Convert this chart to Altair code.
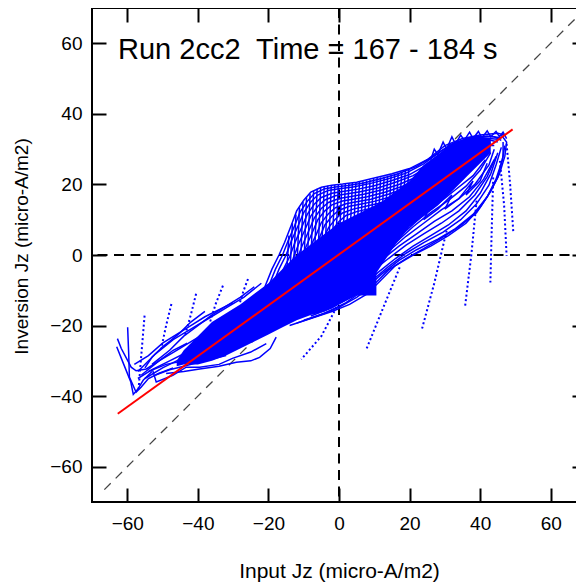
import altair as alt
import pandas as pd

FONT = "Liberation Sans"
BLUE = "#0000ff"

X_TICKS = [-60, -40, -20, 0, 20, 40, 60]
Y_TICKS = [-60, -40, -20, 0, 20, 40, 60]
DOMAIN = [-70, 70]

TITLE_TEXT = "Run 2cc2\u00a0 Time = 167 - 184 s"
X_TITLE = "Input Jz (micro-A/m2)"
Y_TITLE = "Inversion Jz (micro-A/m2)"

# identity line (dashed grey)
diag_x = [-66.5, 70]
diag_y = [-66.5, 70]

# linear fit (red)
fit_x = [-62.7, 49.2]
fit_y = [-45.0, 35.6]

# dense core of the blue trace cloud
core_x = [-46, -44, -40, -36, -32, -28, -24, -20, -16, -12, -8, -4, 0, 4, 8, 12, 16, 20, 24, 28, 32, 36, 40, 43]
core_hi = [-30, -27, -23, -19, -16.5, -14, -11, -8, -4, 0, 3, 6, 9, 11, 13, 15, 18, 21, 25.5, 28.5, 31.5, 33, 33.5, 33]
core_lo = [-31.5, -31, -31, -30, -28.5, -26.5, -24.5, -22.5, -20.5, -18.5, -17, -16, -14, -12, -9, -3, 3, 8, 11, 14, 18, 22, 26, 29]

# dense block below the core near the origin
block_x = [0, 10.6]
block_lo = [-11.5, -11.5]
block_hi = [-3, -3]

upper_loops = [
    [(-21, -9), (-19, -4), (-17, 0), (-15.4, 3.6), (-13.5, 8.5), (-12, 12.5), (-10, 15.5), (-8, 17.8), (-5, 19.2), (-2, 19.8), (1, 20.1), (5, 20.6), (10, 21.8), (15, 23), (20, 24.5), (25, 27), (30, 31), (35, 33), (40, 34), (45, 34.5), (47, 34)],
    [(-20, -9), (-18, -4), (-16, 0), (-14.5, 3.8), (-12.5, 8.5), (-11, 12.2), (-9, 15.2), (-7, 17.4), (-4, 18.8), (-1, 19.3), (2.5, 19.7), (7, 20.4), (12, 21.7), (17, 23.1), (22, 25.1), (27, 28.2), (32, 31.5), (37, 33.2), (42, 33.7), (46, 33.2)],
    [(-19, -9), (-17, -4), (-15, 0), (-13.5, 4), (-11.5, 8.5), (-10, 12), (-8, 15), (-6, 17), (-3, 18.3), (0, 18.8), (4, 19.3), (9, 20.3), (14, 21.6), (19, 23.2), (24, 25.8), (29, 29.5), (34, 32.2), (39, 33.5), (44, 33.5), (46, 32.5)],
    [(-18, -9.5), (-16, -4.5), (-14, -0.5), (-12.5, 3.5), (-10.5, 8), (-9, 11.5), (-7, 14.4), (-5, 16.3), (-2, 17.5), (1, 18), (5, 18.6), (10, 19.6), (15, 21.1), (20, 22.8), (25, 25.6), (30, 29.5), (35, 32.1), (40, 33.2), (45, 32.8)],
    [(-17, -10), (-15, -5), (-13, -1), (-11.5, 3), (-9.5, 7.5), (-8, 11), (-6, 13.8), (-4, 15.6), (-1, 16.8), (2, 17.3), (6, 17.9), (11, 19), (16, 20.6), (21, 22.5), (26, 25.5), (31, 29.5), (36, 32), (41, 33), (45, 32)],
    [(-16, -10.5), (-14, -5.5), (-12, -1.5), (-10.5, 2.5), (-8.5, 7), (-7, 10.5), (-5, 13.2), (-3, 14.9), (0, 16), (3, 16.5), (7, 17.2), (12, 18.4), (17, 20), (22, 22.1), (27, 25.2), (32, 29.1), (37, 31.7), (42, 32.5)],
    [(-15, -11), (-13, -6), (-11, -2), (-9.5, 2), (-7.5, 6.5), (-6, 10), (-4, 12.5), (-2, 14.2), (1, 15.3), (4, 15.8), (8, 16.5), (13, 17.8), (18, 19.5), (23, 21.8), (28, 25), (33, 28.8), (38, 31.5), (43, 32)],
    [(-14, -11.5), (-12, -6.5), (-10, -2.5), (-8.5, 1.5), (-6.5, 5.7), (-5, 9.2), (-3, 11.7), (-1, 13.4), (2, 14.5), (5, 15.1), (9, 15.8), (14, 17.2), (19, 19), (24, 21.4), (29, 24.7), (34, 28.5), (39, 31.2), (43, 31.5)],
    [(-13, -12), (-11, -7), (-9, -3), (-7.5, 1), (-5.5, 5), (-4, 8.5), (-2, 11), (0, 12.7), (3, 13.8), (6, 14.4), (10, 15.2), (15, 16.6), (20, 18.5), (25, 21), (30, 24.5), (35, 28.3), (40, 31), (44, 31)],
    [(-12, -12.5), (-10, -7.5), (-8, -3.5), (-6.5, 0.5), (-4.5, 4.5), (-3, 7.7), (-1, 10.2), (1, 11.9), (4, 13), (7, 13.7), (11, 14.6), (16, 16), (21, 18), (26, 20.7), (31, 24.2), (36, 27.9), (40, 30.5)],
    [(-11, -13), (-9, -8), (-7, -4), (-5.5, 0), (-3.5, 4), (-2, 7), (0, 9.5), (2, 11.2), (5, 12.3), (8, 13), (12, 14), (17, 15.5), (22, 17.5), (27, 20.5), (32, 24), (37, 27.5), (41, 30)],
]

plateau_hatch = [
    [(-15, -8), (-14.2, 5.5)], [(-14, -7), (-13.2, 9)], [(-13, -6), (-12.2, 11.5)],
    [(-12, -5.5), (-11.2, 13.5)], [(-11, -5), (-10.2, 15)], [(-10, -4), (-9.2, 16.3)],
    [(-9, -3), (-8.2, 17.3)], [(-8, -2.5), (-7.2, 18.2)], [(-7, -2), (-6.2, 18.8)],
    [(-6, -1.5), (-5.2, 19.1)], [(-5, -1), (-4.2, 19.4)], [(-4, -0.5), (-3.2, 19.6)],
    [(-3, 0), (-2.2, 19.7)], [(-2, 0.5), (-1.2, 19.8)], [(-1, 1), (-0.2, 19.9)],
    [(0, 1.5), (0.8, 20)], [(1, 2), (1.8, 20.1)], [(2, 2.5), (2.8, 20.3)],
    [(3, 3), (3.8, 20.4)], [(4, 3.5), (4.8, 20.5)], [(5, 4), (5.8, 20.7)],
    [(6, 4.5), (6.8, 20.9)], [(7, 5), (7.8, 21.1)], [(8, 5.5), (8.8, 21.3)],
    [(9, 6), (9.8, 21.6)], [(10, 6.5), (10.8, 21.8)], [(11, 7), (11.8, 22)],
    [(12, 8), (12.8, 22.2)], [(13, 9), (13.8, 22.5)], [(14, 9.5), (14.8, 22.8)],
    [(15, 10), (15.8, 23)], [(16, 10.5), (16.8, 23.3)], [(17, 11), (17.8, 23.6)],
    [(18, 12), (18.8, 23.9)], [(19, 13), (19.8, 24.2)],
]

top_fringe = [
    [(26, 27), (27, 30), (28, 28.5), (29.5, 32), (30.5, 30), (32, 33.5), (33, 31.5), (34.5, 34), (35.5, 32.5), (37, 34.8), (38, 33), (39.5, 35), (40.5, 33.2), (42, 35.2), (43, 33.5), (44.5, 35), (45.5, 33.5), (46.5, 34.8), (47.5, 33)],
]

lower_loops = [
    [(-14, -20), (-8, -18), (-2, -16), (3, -14), (8, -11), (12, -7), (16, -3), (21, 0), (26, 2.5), (31, 5.5), (36, 9), (40, 13.5), (43, 18), (45.5, 23), (47, 28), (47.5, 32), (46, 34)],
    [(-12, -19.3), (-6, -17.2), (0, -14.8), (5, -12), (10, -8.3), (14, -4.3), (19, -1), (24, 1.8), (29, 4.8), (34, 8), (39, 12), (42, 16.5), (44.5, 21.5), (46.3, 27), (47, 31)],
    [(-10, -18.5), (-4, -16.5), (2, -13.5), (7, -10), (12, -5.5), (17, -1.5), (22, 1.5), (28, 4.5), (33, 7.5), (38, 11.5), (42, 16.5), (45, 22), (46.5, 28), (46.5, 32)],
    [(-8, -17.3), (-2, -15), (4, -11.5), (9, -7.5), (14, -3.3), (19, 0.5), (24, 3.5), (29.5, 6.5), (34.5, 10), (39, 14.5), (42.5, 19.8), (44.5, 25.5), (46, 30.5)],
    [(-6, -16), (0, -13.5), (6, -9.5), (11, -5), (16, -1), (21, 2.5), (26, 5.5), (31, 8.5), (36, 12.5), (40, 17.5), (43, 23), (45, 29)],
    [(-2, -13), (4, -9), (9, -5), (14, -1), (19, 2.8), (24, 6), (29, 9), (34, 12.5), (38.5, 17), (42, 22.2), (44.5, 28)],
    [(2, -10), (7, -6), (12, -1.5), (17, 2.5), (22, 6), (27, 9.5), (32, 12.5), (37, 16.5), (41, 21.5), (44, 27)],
    [(4, -7.5), (9, -3.5), (14, 1), (19, 5.3), (24, 9), (29, 12.8), (34, 16), (38.5, 20), (42.5, 25.5), (44, 30)],
    [(6, -5), (11, -1), (16, 3.5), (21, 8), (26, 12), (31, 15.5), (36, 19.5), (40, 24), (43, 29)],
    [(8, -3), (13, 1.5), (18, 6), (23, 10.5), (28, 14.5), (33, 18.5), (38, 22.5), (41.5, 27)],
    [(10, -1), (15, 4), (20, 9), (25, 13), (30, 17), (35, 21.5), (39, 26), (42, 30)],
    [(14, 3), (19, 8), (24, 12.5), (29, 17), (33, 20), (37, 24), (41, 28.5)],
    [(18, 9), (22, 11), (26, 14), (24, 10), (28, 13), (32, 17), (30, 13), (34, 16), (38, 21), (36, 17), (40, 21), (42, 26)],
]

left_loops = [
    [(-62.8, -23.7), (-61.7, -26.5), (-58.9, -31.8), (-57.5, -32.8), (-54.6, -32.3), (-51, -30), (-47, -27), (-43, -25)],
    [(-59.9, -20.5), (-59.6, -28), (-59.4, -34.6), (-57.5, -38.9), (-56.1, -37.5), (-54, -35), (-51, -33.5), (-47, -32)],
    [(-63, -26), (-61, -31), (-59, -36), (-58.3, -39.5), (-57, -38), (-55.5, -35.5), (-53, -33)],
    [(-57, -33), (-52, -28), (-47, -24), (-42, -21), (-37, -18), (-32, -15), (-27, -12), (-22, -8)],
    [(-56, -34), (-51, -30), (-46, -27), (-41, -24), (-36, -21), (-31, -18), (-26, -15)],
    [(-55, -35), (-50, -32), (-45, -29.5), (-40, -27), (-35, -25), (-30, -22), (-25, -19)],
    [(-54, -33), (-49, -31), (-44, -30), (-39, -29), (-34, -27.5), (-29, -26), (-24, -23)],
    [(-53, -31), (-48, -27), (-44, -23), (-40, -20), (-36, -17), (-32, -14.5), (-28, -12), (-24, -9)],
    [(-52.8, -32.7), (-51.8, -36), (-47.1, -34.1), (-43.3, -31.8), (-39.5, -31.8), (-34, -31), (-30.2, -29.3), (-25, -27.5), (-20.6, -25.1)],
    [(-49, -33.6), (-44, -33), (-39.5, -32.3), (-34, -31.5), (-29.1, -30.4), (-25, -30), (-22.5, -29), (-19.5, -26.5), (-17.8, -23.3)],
    [(-55, -32), (-53, -29), (-50, -26), (-48, -24.5), (-45, -22), (-42, -19), (-38, -16)],
    [(-58, -31), (-54, -28.5), (-50, -25), (-46, -22.5), (-42, -20), (-38, -17.5), (-34, -15.5), (-30, -13.5)],
    [(-57, -35), (-53, -32.5), (-48, -30), (-43, -27.5), (-38, -25.5), (-33, -23.5), (-28, -21)],
    [(-52, -34), (-48, -32.5), (-44, -31.5), (-40, -30.5), (-36, -29.5), (-32, -28.5)],
]

dotted_tails = [
    [(-55.1, -17.2), (-56, -28), (-56.8, -38)],
    [(-47.5, -13.9), (-49, -20), (-50.4, -26.6)],
    [(-40.5, -11), (-42, -17), (-43.8, -23.3)],
    [(-32.9, -8.7), (-35, -14), (-36.7, -19.5)],
    [(-25.8, -6.8), (-27, -10), (-28.2, -13.9)],
    [(47.5, 31.5), (48.5, 20), (49.4, 6.4)],
    [(45.6, 26.7), (46.8, 14), (47.5, -0.2)],
    [(43.7, 22), (43.3, 8), (42.9, -7.8)],
    [(39, 15.4), (37.5, 0), (35.7, -14.8)],
    [(30.5, 6.9), (27, -8), (23.4, -21.4)],
    [(17.2, -3.5), (12.5, -15), (7.8, -26.6)],
    [(-0.7, -14.8), (-5, -23), (-10.7, -29.6)],
]


def to_frame(groups, prefix):
    rows = []
    for gi, pts in enumerate(groups):
        for i, (x, y) in enumerate(pts):
            rows.append({"traj": f"{prefix}{gi}", "i": i, "x": x, "y": y})
    return pd.DataFrame(rows)


solid_df = pd.concat([
    to_frame(upper_loops, "u"),
    to_frame(plateau_hatch, "h"),
    to_frame(top_fringe, "f"),
    to_frame(lower_loops, "l"),
    to_frame(left_loops, "a"),
], ignore_index=True)
dotted_df = to_frame(dotted_tails, "d")

xs = alt.Scale(domain=DOMAIN, nice=False, zero=False)
ys = alt.Scale(domain=DOMAIN, nice=False, zero=False)

common_axis = dict(values=X_TICKS, offset=-14, tickSize=14, tickWidth=2, tickColor="black",
                   domain=False, grid=False)

axis_bottom = alt.Axis(orient="bottom", labelFont=FONT, labelFontSize=19, labelColor="black",
                       labelPadding=12, title=X_TITLE, titleFont=FONT, titleFontSize=21,
                       titleFontWeight="normal", titleColor="black", titlePadding=27, **common_axis)
axis_left = alt.Axis(orient="left", labelFont=FONT, labelFontSize=19, labelColor="black",
                     labelPadding=10, title=Y_TITLE, titleFont=FONT, titleFontSize=19,
                     titleFontWeight="normal", titleColor="black", titlePadding=18,
                     titleY=238, **common_axis)
axis_top = alt.Axis(orient="top", labels=False, title="", **common_axis)
axis_right = alt.Axis(orient="right", labels=False, title="", **common_axis)

zero_v = alt.Chart(pd.DataFrame({"x": [0]})).mark_rule(
    color="black", strokeWidth=2, strokeDash=[10, 6.5]).encode(
    x=alt.X("x:Q", scale=xs, axis=None))
zero_h = alt.Chart(pd.DataFrame({"y": [0]})).mark_rule(
    color="black", strokeWidth=2, strokeDash=[10, 6.5]).encode(
    y=alt.Y("y:Q", scale=ys, axis=None))

diag = alt.Chart(pd.DataFrame({"x": diag_x, "y": diag_y})).mark_line(
    color="#444444", strokeWidth=1.3, strokeDash=[9, 7]).encode(
    x=alt.X("x:Q", scale=xs, axis=axis_bottom),
    y=alt.Y("y:Q", scale=ys, axis=axis_left))

core = alt.Chart(pd.DataFrame({"x": core_x, "lo": core_lo, "hi": core_hi})).mark_area(
    color=BLUE, opacity=1).encode(
    x=alt.X("x:Q", scale=xs, axis=None),
    y=alt.Y("lo:Q", scale=ys, axis=None),
    y2="hi:Q")

block = alt.Chart(pd.DataFrame({"x": block_x, "lo": block_lo, "hi": block_hi})).mark_area(
    color=BLUE, opacity=1).encode(
    x=alt.X("x:Q", scale=xs, axis=None),
    y=alt.Y("lo:Q", scale=ys, axis=None),
    y2="hi:Q")

solid_lines = alt.Chart(solid_df).mark_line(color=BLUE, strokeWidth=1.5).encode(
    x=alt.X("x:Q", scale=xs, axis=None),
    y=alt.Y("y:Q", scale=ys, axis=None),
    detail="traj:N",
    order="i:Q")

dotted_lines = alt.Chart(dotted_df).mark_line(color=BLUE, strokeWidth=2, strokeDash=[2, 2.5]).encode(
    x=alt.X("x:Q", scale=xs, axis=None),
    y=alt.Y("y:Q", scale=ys, axis=None),
    detail="traj:N",
    order="i:Q")

fit = alt.Chart(pd.DataFrame({"x": fit_x, "y": fit_y})).mark_line(
    color="#ff0000", strokeWidth=2).encode(
    x=alt.X("x:Q", scale=xs, axis=axis_top),
    y=alt.Y("y:Q", scale=ys, axis=axis_right))

label = alt.Chart(pd.DataFrame({"t": [TITLE_TEXT]})).mark_text(
    align="left", baseline="alphabetic", font=FONT, fontSize=29, color="black").encode(
    x=alt.value(26), y=alt.value(51), text="t:N")

chart = alt.layer(
    zero_v, zero_h, diag, core, block, solid_lines, dotted_lines, fit, label
).resolve_axis(x="independent", y="independent").properties(
    width=494, height=494,
    autosize=alt.AutoSizeParams(type="none"),
    padding={"left": 84, "top": 0, "right": -10, "bottom": 84},
).configure_view(stroke="black", strokeWidth=2)

chart.save("out.html", embed_options={"renderer": "svg", "actions": False})
